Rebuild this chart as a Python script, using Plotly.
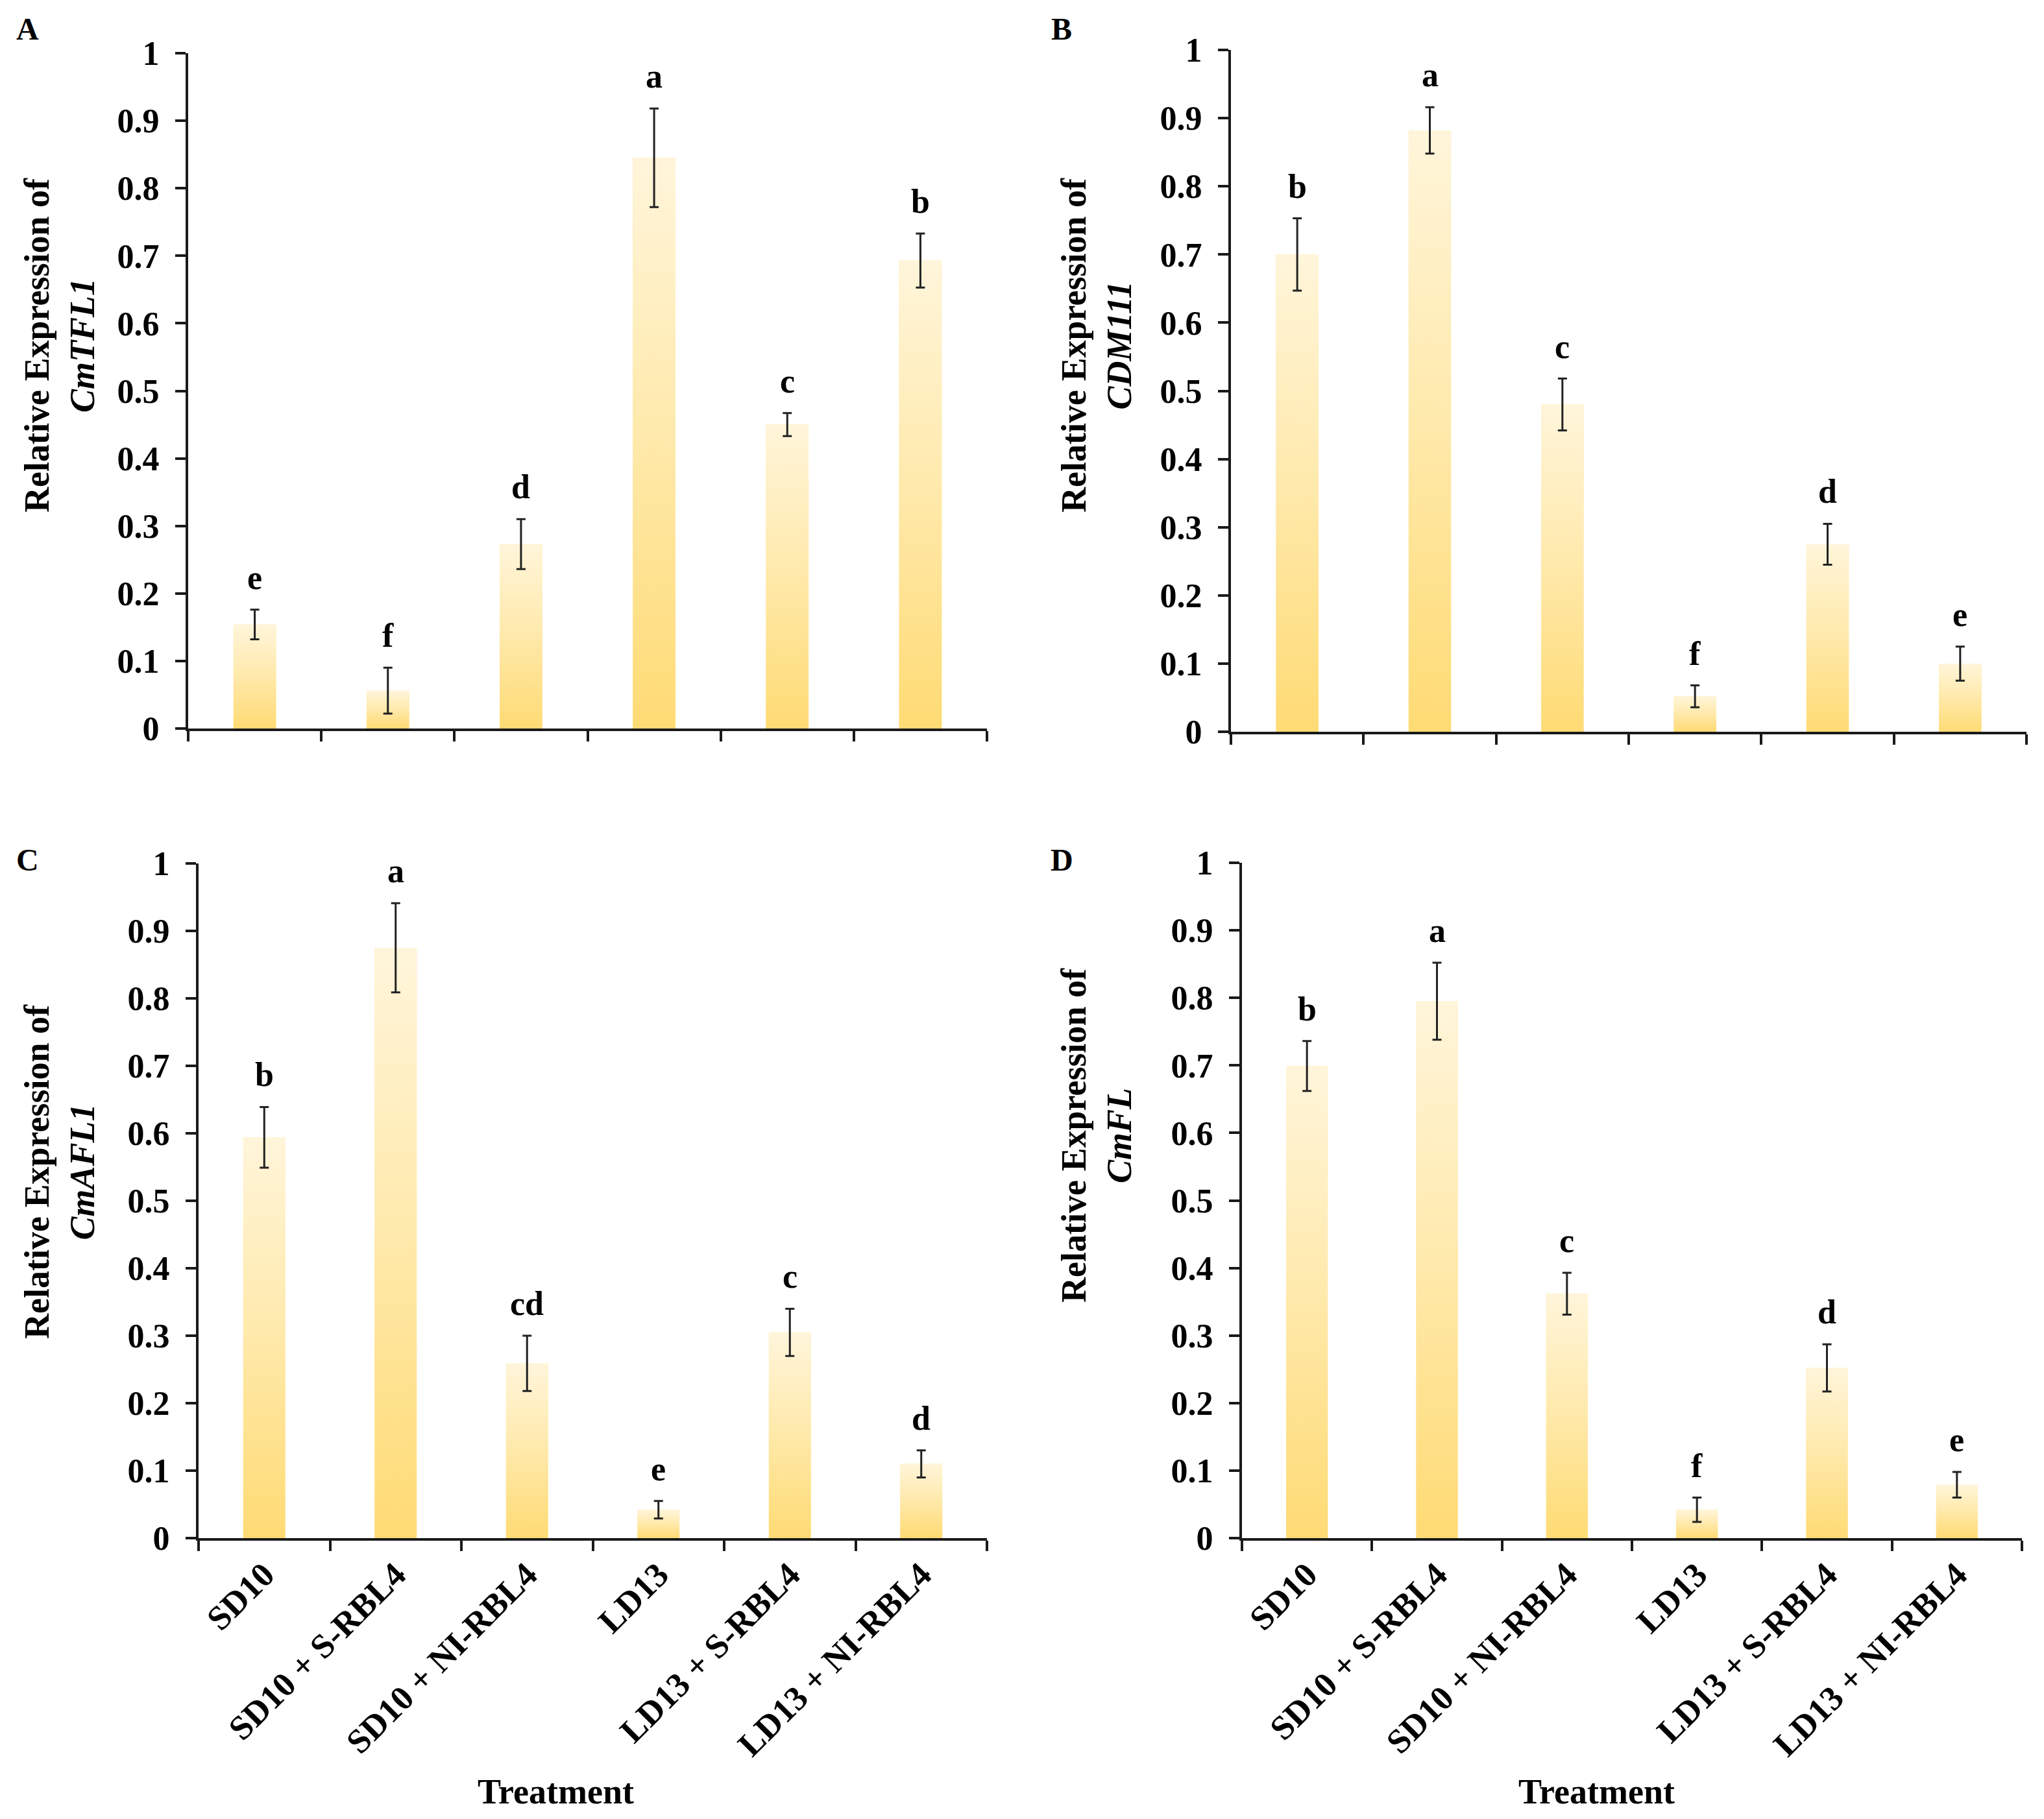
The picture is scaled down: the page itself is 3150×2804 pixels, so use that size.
import plotly.graph_objects as go

categories = ["SD10", "SD10 + S-RBL4", "SD10 + NI-RBL4", "LD13", "LD13 + S-RBL4", "LD13 + NI-RBL4"]
y_tick_vals = [0, 0.1, 0.2, 0.3, 0.4, 0.5, 0.6, 0.7, 0.8, 0.9, 1]
y_tick_text = ["0", "0.1", "0.2", "0.3", "0.4", "0.5", "0.6", "0.7", "0.8", "0.9", "1"]

a_vals = [0.154, 0.056, 0.273, 0.845, 0.450, 0.693]
a_err = [0.022, 0.034, 0.037, 0.073, 0.017, 0.040]
a_letters = ["e", "f", "d", "a", "c", "b"]

b_vals = [0.700, 0.882, 0.480, 0.052, 0.275, 0.100]
b_err = [0.053, 0.034, 0.038, 0.016, 0.030, 0.025]
b_letters = ["b", "a", "c", "f", "d", "e"]

c_vals = [0.594, 0.875, 0.259, 0.042, 0.305, 0.110]
c_err = [0.045, 0.066, 0.041, 0.013, 0.035, 0.020]
c_letters = ["b", "a", "cd", "e", "c", "d"]

d_vals = [0.699, 0.795, 0.362, 0.042, 0.252, 0.079]
d_err = [0.037, 0.057, 0.031, 0.018, 0.035, 0.019]
d_letters = ["b", "a", "c", "f", "d", "e"]

genes = ["CmTFL1", "CDM111", "CmAFL1", "CmFL"]
panel_labels = ["A", "B", "C", "D"]
x_title = "Treatment"

W, H = 3150, 2804
OFF = 8  # page body margin compensation
FONT = "Liberation Serif"
AXC = "#1a1a1a"
BAR_W = 0.32

# panel geometry (pixels in the reference): x0, x1, ytop, ybottom
geom = [
    (290, 1521, 82, 1123),
    (1897, 3123, 77, 1128),
    (306, 1521, 1331, 2371),
    (1914, 3116, 1330, 2371),
]
title_pos = [(92, 532), (1690, 532), (92, 1806), (1690, 1750)]
label_pos = [(42, 44), (1636, 44), (42, 1326), (1636, 1326)]
xtitle_pos = [None, None, (856, 2762), (2460, 2762)]


def px(x):
    return (x - OFF) / W


def py(y):
    return 1 - (y - OFF) / H


panels = [
    (a_vals, a_err, a_letters),
    (b_vals, b_err, b_letters),
    (c_vals, c_err, c_letters),
    (d_vals, d_err, d_letters),
]

fig = go.Figure()
annotations = []
idx = list(range(len(categories)))

for p, (vals, errs, letters) in enumerate(panels):
    n = "" if p == 0 else str(p + 1)
    xa, ya = "x" + n, "y" + n
    # base bars
    fig.add_trace(go.Bar(
        x=idx, y=vals, width=BAR_W, xaxis=xa, yaxis=ya,
        marker=dict(color="#FFE9A8", line=dict(width=0)),
        showlegend=False, hoverinfo="skip",
    ))
    # gradient overlay for each bar
    for i, v in zip(idx, vals):
        fig.add_trace(go.Scatter(
            x=[i - BAR_W / 2, i - BAR_W / 2, i + BAR_W / 2, i + BAR_W / 2, i - BAR_W / 2],
            y=[0, v, v, 0, 0],
            mode="lines", fill="toself", line=dict(width=0, color="rgba(0,0,0,0)"),
            fillgradient=dict(type="vertical",
                              colorscale=[[0, "#FFDB74"], [0.5, "#FFE9AA"], [1, "#FFF5DA"]]),
            xaxis=xa, yaxis=ya, showlegend=False, hoverinfo="skip",
        ))
    # error bars
    fig.add_trace(go.Scatter(
        x=idx, y=vals, mode="markers", xaxis=xa, yaxis=ya,
        marker=dict(size=1, color="rgba(0,0,0,0)"),
        error_y=dict(type="data", array=errs, visible=True, color="#222222",
                     thickness=3, width=7),
        showlegend=False, hoverinfo="skip",
    ))
    # significance letters
    for i, v, e, t in zip(idx, vals, errs, letters):
        annotations.append(dict(
            x=i, y=v + e, xref=xa, yref=ya, text="<b>" + t + "</b>",
            showarrow=False, yanchor="bottom", xanchor="center", yshift=19,
            font=dict(family=FONT, size=52, color="black"),
        ))

    x0, x1, yt, yb = geom[p]
    bottom = p >= 2
    fig.update_layout(**{
        ("xaxis" + n): dict(
            domain=[px(x0), px(x1)], anchor=ya, range=[-0.5, len(categories) - 0.5],
            tickvals=idx, ticktext=categories if bottom else [""] * len(categories),
            ticks="", showline=True, linewidth=4, linecolor=AXC, showgrid=False,
            zeroline=False, tickangle=-45, automargin=False,
            tickfont=dict(family=FONT, size=53, color="black", weight="bold"),
            minor=dict(tickvals=[k - 0.5 for k in range(len(categories) + 1)],
                       ticks="outside", ticklen=16, tickwidth=4, tickcolor=AXC,
                       showgrid=False),
            fixedrange=True,
        ),
        ("yaxis" + n): dict(
            domain=[py(yb), py(yt)], anchor=xa, range=[0, 1],
            tickvals=y_tick_vals, ticktext=y_tick_text,
            ticks="outside", ticklen=16, tickwidth=4, tickcolor=AXC,
            showline=True, linewidth=4, linecolor=AXC, showgrid=False, zeroline=False,
            tickfont=dict(family=FONT, size=52, color="black", weight="bold"),
            ticklabelstandoff=14, fixedrange=True, automargin=False,
        ),
    })
    tx, ty = title_pos[p]
    annotations.append(dict(
        x=px(tx), y=py(ty), xref="paper", yref="paper",
        text="<b>Relative Expression of<br><i>" + genes[p] + "</i></b>",
        textangle=-90, showarrow=False, xanchor="center", yanchor="middle",
        font=dict(family=FONT, size=54, color="black"),
    ))
    lx, ly = label_pos[p]
    annotations.append(dict(
        x=px(lx), y=py(ly), xref="paper", yref="paper",
        text="<b>" + panel_labels[p] + "</b>", showarrow=False,
        xanchor="center", yanchor="middle",
        font=dict(family=FONT, size=48, color="black"),
    ))
    if xtitle_pos[p] is not None:
        gx, gy = xtitle_pos[p]
        annotations.append(dict(
            x=px(gx), y=py(gy), xref="paper", yref="paper",
            text="<b>" + x_title + "</b>", showarrow=False,
            xanchor="center", yanchor="middle",
            font=dict(family=FONT, size=54, color="black"),
        ))

fig.update_layout(
    width=W, height=H, margin=dict(l=0, r=0, t=0, b=0, autoexpand=False),
    paper_bgcolor="white", plot_bgcolor="white",
    annotations=annotations, showlegend=False, barmode="overlay",
)

fig.write_html("out.html")
